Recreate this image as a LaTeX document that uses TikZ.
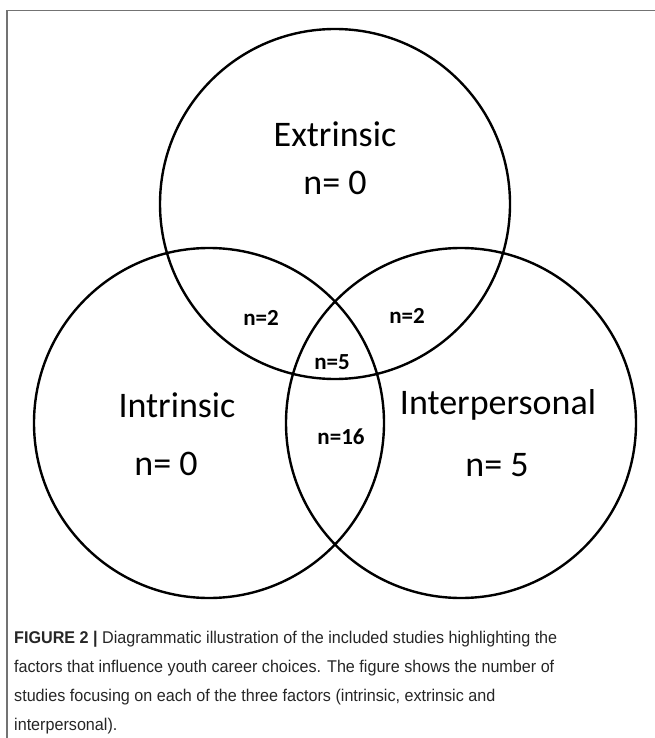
\documentclass[tikz,border=0pt]{standalone}
\usepackage{fontspec}
\setmainfont{Carlito}
\newfontfamily\capfont{Liberation Sans}
\begin{document}
\begin{tikzpicture}[x=1pt,y=-1pt,
  venn/.style={circle, draw, line width=2.4pt, inner sep=0pt, minimum size=350pt},
  setname/.style={font=\fontsize{36}{36}\selectfont},
  small/.style={font=\fontsize{23}{23}\selectfont\bfseries}]
\useasboundingbox (0,0) rectangle (655,738);
% frame
\draw[line width=1.4pt, black!55] (7,738) -- (7,10.5) -- (655,10.5);
% circles
\node[venn] (extr) at (335,204){};
\node[venn] (intr) at (209,423){};
\node[venn] (inter) at (461,423){};
% names and counts
\node[setname] (extrlab) at (335,134){Extrinsic};
\node[setname] (extrn) at (335,183){n= 0};
\node[setname] (intrlab) at (177,405){Intrinsic};
\node[setname] (intrn) at (166,464){n= 0};
\node[setname] (interlab) at (498,405){Interpersonal};
\node[setname] (intern) at (497,465){n= 5};
\node[small] (ei) at (261,318){n=2};
\node[small] (eo) at (407,316){n=2};
\node[small] (all) at (332,362){n=5};
\node[small] (io) at (341,437){n=16};
% caption
\node[anchor=north west, align=left, inner sep=0pt, text=black!85,
  xscale=0.95, transform shape,
  font=\capfont\fontsize{17}{29}\selectfont] (caption) at (14,631)
  {\textbf{FIGURE 2 |} Diagrammatic illustration of the included studies highlighting the\\
  factors that influence youth career choices. The figure shows the number of\\
  studies focusing on each of the three factors (intrinsic, extrinsic and\\
  interpersonal).};
\end{tikzpicture}
\end{document}
